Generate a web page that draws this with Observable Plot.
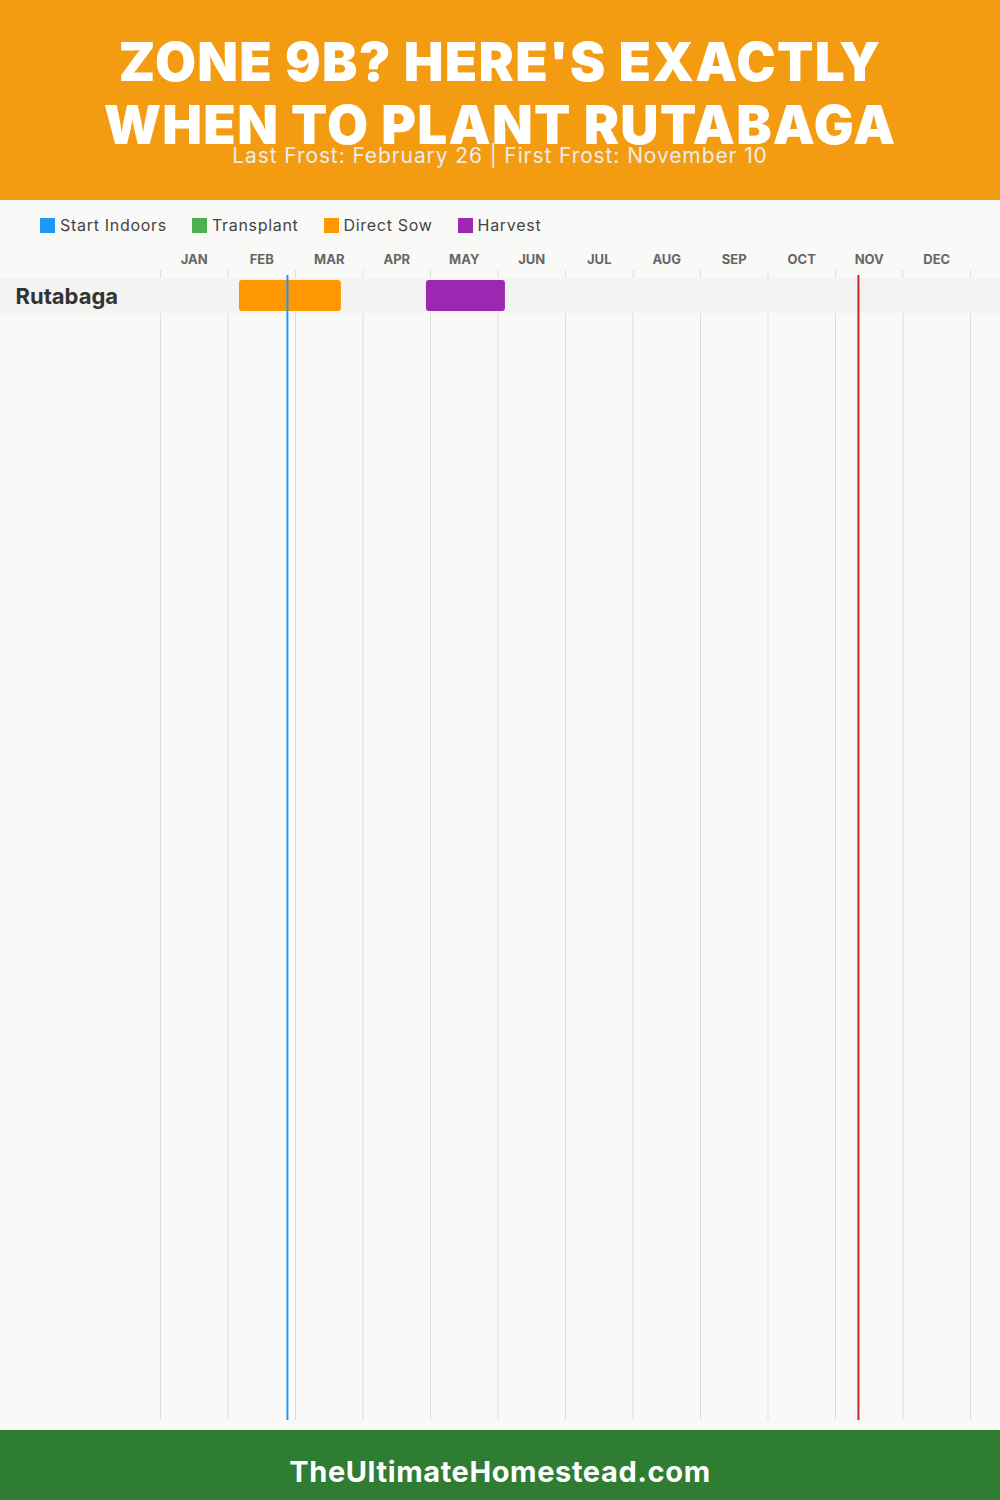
<!DOCTYPE html>
<html>
<head>
<meta charset="utf-8">
<script src="https://cdn.jsdelivr.net/npm/d3@7"></script>
<script src="https://cdn.jsdelivr.net/npm/@observablehq/plot@0.6"></script>
<style>
  html, body { margin: 0; padding: 0; background: #f9f9f7; width: 1000px; }
  body { font-family: Montserrat, Inter, "Open Sans", sans-serif; }
  #header { position: relative; height: 200px; background: #f39c12; color: #fff; text-align: center; overflow: hidden; }
  #title { position: absolute; top: 31px; left: 0; width: 1000px; font-family: Inter, sans-serif; font-weight: 900; font-size: 53px; line-height: 63px; letter-spacing: 1.3px; }
  #subtitle { position: absolute; top: 143px; left: 0; width: 1000px; font-family: Inter, sans-serif; font-weight: 400; font-size: 21px; letter-spacing: 0.9px; color: #ececec; }
  #legend { height: 50px; display: flex; align-items: center; padding-left: 40px; gap: 25px; font-family: Inter, sans-serif; font-size: 16px; letter-spacing: 0.7px; color: #444; box-sizing: border-box; }
  #legend .item { display: flex; align-items: center; gap: 5px; }
  #legend .sw { width: 15px; height: 15px; display: inline-block; }
  #chart svg { display: block; }
  #footer { height: 70px; background: #2e7d32; color: #fff; display: flex; align-items: center; justify-content: center; font-family: Inter, sans-serif; font-weight: 700; font-size: 29px; letter-spacing: 0.6px; padding-top: 12px; box-sizing: border-box; }
</style>
</head>
<body>
<div id="header">
  <div id="title">ZONE 9B? HERE'S EXACTLY<br>WHEN TO PLANT RUTABAGA</div>
  <div id="subtitle">Last Frost: February 26 | First Frost: November 10</div>
</div>
<div id="legend"></div>
<div id="chart"></div>
<div id="footer">TheUltimateHomestead.com</div>
<script>
// ---- data ----
const months = ["JAN","FEB","MAR","APR","MAY","JUN","JUL","AUG","SEP","OCT","NOV","DEC"];
const crops = ["Rutabaga"];
const stages = ["Start Indoors","Transplant","Direct Sow","Harvest"];
const stageColors = ["#2196f3","#4caf50","#ff9800","#9c27b0"];
// periods in fractional months (0 = Jan 1, 12 = Dec 31)
const periodCrop = ["Rutabaga","Rutabaga"];
const periodStage = ["Direct Sow","Harvest"];
const periodStart = [1.17, 3.94];
const periodEnd = [2.68, 5.11];
const lastFrost = 1.88;   // February 26
const firstFrost = 10.34; // November 10

// ---- legend ----
const legend = document.getElementById("legend");
stages.forEach((s, i) => {
  const it = document.createElement("div");
  it.className = "item";
  it.innerHTML = `<span class="sw" style="background:${stageColors[i]}"></span><span>${s}</span>`;
  legend.appendChild(it);
});

const periods = periodStart.map((s, i) => ({crop: periodCrop[i], stage: periodStage[i], start: s, end: periodEnd[i]}));
const monthIdx = d3.range(12);
const bounds = d3.range(13);

const chart = Plot.plot({
  width: 1000,
  height: 1180,
  marginLeft: 160,
  marginRight: 30,
  marginTop: 20,
  marginBottom: 10,
  style: {background: "#f9f9f7", fontFamily: "Inter, sans-serif", overflow: "visible"},
  x: {domain: [0, 12], axis: null},
  y: {domain: crops, range: [28, 63], padding: 0, axis: null},
  color: {domain: stages, range: stageColors},
  marks: [
    Plot.ruleX(bounds, {x: d => d, stroke: "#dddddd", strokeWidth: 1}),
    Plot.barX(crops, {x1: 0, x2: 12, y: d => d, fill: "#f3f3f2", insetLeft: -160, insetRight: -30}),
    Plot.text(monthIdx, {x: d => d + 0.5, text: d => months[d], frameAnchor: "top", dy: -16, fontSize: 13, fontWeight: 700, fill: "#666", style: "letter-spacing: 0.6px"}),
    Plot.text(crops, {y: d => d, text: d => d, frameAnchor: "left", dx: -145, dy: 1, textAnchor: "start", fontSize: 22, fontWeight: 700, fill: "#333", style: "letter-spacing: 1px"}),
    Plot.barX(periods, {x1: "start", x2: "end", y: "crop", fill: "stage", insetTop: 2, insetBottom: 2, rx: 3}),
    Plot.ruleX([lastFrost], {x: d => d, stroke: "#2196f3", strokeWidth: 2, insetTop: 5}),
    Plot.ruleX([firstFrost], {x: d => d, stroke: "#c62828", strokeWidth: 2, insetTop: 5})
  ]
});
document.getElementById("chart").appendChild(chart);
</script>
</body>
</html>
